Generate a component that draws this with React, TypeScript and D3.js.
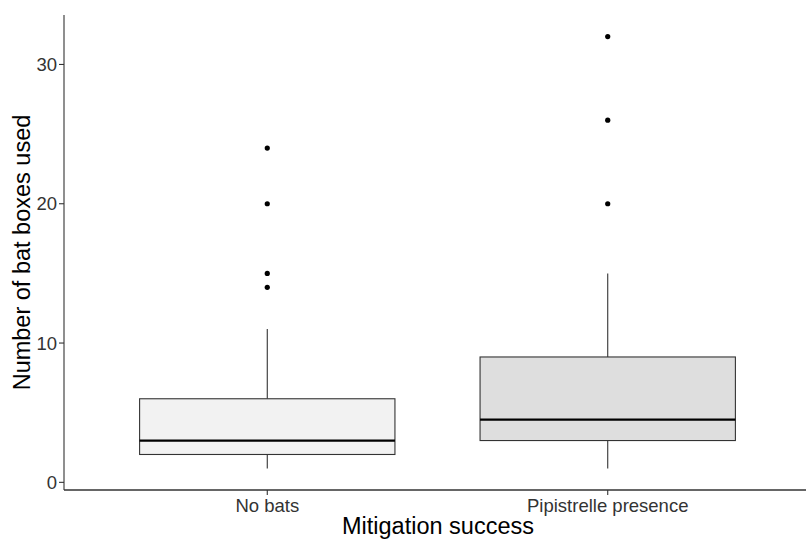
import React from "react";
import * as d3 from "d3";

const categories = ["No bats", "Pipistrelle presence"];
const lowerWhisker = [1, 1];
const q1 = [2, 3];
const medians = [3, 4.5];
const q3 = [6, 9];
const upperWhisker = [11, 15];
const outliers = [
  [14, 15, 20, 24],
  [20, 26, 32],
];
const fills = ["#F2F2F2", "#DEDEDE"];
const yTicks = [0, 10, 20, 30];

const W = 806;
const H = 539;

export default function App() {
  const x = d3.scalePoint<string>().domain(categories).range([63, 812]).padding(0.6);
  const y = d3.scaleLinear().domain([-0.55, 33.55]).range([490, 15]);
  const boxW = x.step() * 0.75;
  const left = 64;
  const bottom = 490;

  return (
    <svg
      width={W}
      height={H}
      style={{ position: "absolute", left: 0, top: 0, background: "#fff" }}
      fontFamily="Liberation Sans, Arial, sans-serif"
    >
      {/* boxes */}
      {categories.map((c, i) => {
        const cx = x(c)!;
        return (
          <g key={c}>
            <line x1={cx} x2={cx} y1={y(q3[i])} y2={y(upperWhisker[i])} stroke="#333" strokeWidth={1.1} />
            <line x1={cx} x2={cx} y1={y(q1[i])} y2={y(lowerWhisker[i])} stroke="#333" strokeWidth={1.1} />
            <rect
              x={cx - boxW / 2}
              y={y(q3[i])}
              width={boxW}
              height={y(q1[i]) - y(q3[i])}
              fill={fills[i]}
              stroke="#333"
              strokeWidth={1.1}
            />
            <line
              x1={cx - boxW / 2}
              x2={cx + boxW / 2}
              y1={y(medians[i])}
              y2={y(medians[i])}
              stroke="#000"
              strokeWidth={2.2}
            />
            {outliers[i].map((v, j) => (
              <circle key={j} cx={cx} cy={y(v)} r={2.6} fill="#000" />
            ))}
          </g>
        );
      })}

      {/* y axis */}
      <line x1={left} x2={left} y1={15} y2={bottom} stroke="#333" strokeWidth={1.1} />
      {yTicks.map((t) => (
        <g key={t}>
          <line x1={left - 5} x2={left} y1={y(t)} y2={y(t)} stroke="#333" strokeWidth={1.1} />
          <text x={left - 7} y={y(t)} dy="0.35em" textAnchor="end" fontSize={18.5} fill="#333">
            {t}
          </text>
        </g>
      ))}

      {/* x axis */}
      <line x1={left} x2={W} y1={bottom} y2={bottom} stroke="#333" strokeWidth={1.3} />
      {categories.map((c) => (
        <g key={c}>
          <line x1={x(c)!} x2={x(c)!} y1={bottom} y2={bottom + 5} stroke="#333" strokeWidth={1.1} />
          <text x={x(c)!} y={512} textAnchor="middle" fontSize={18.5} fill="#333">
            {c}
          </text>
        </g>
      ))}

      {/* titles */}
      <text x={438} y={534} textAnchor="middle" fontSize={23.5} fill="#000">
        Mitigation success
      </text>
      <text
        transform={`translate(30, ${(15 + 490) / 2}) rotate(-90)`}
        textAnchor="middle"
        fontSize={23.5}
        fill="#000"
      >
        Number of bat boxes used
      </text>
    </svg>
  );
}
